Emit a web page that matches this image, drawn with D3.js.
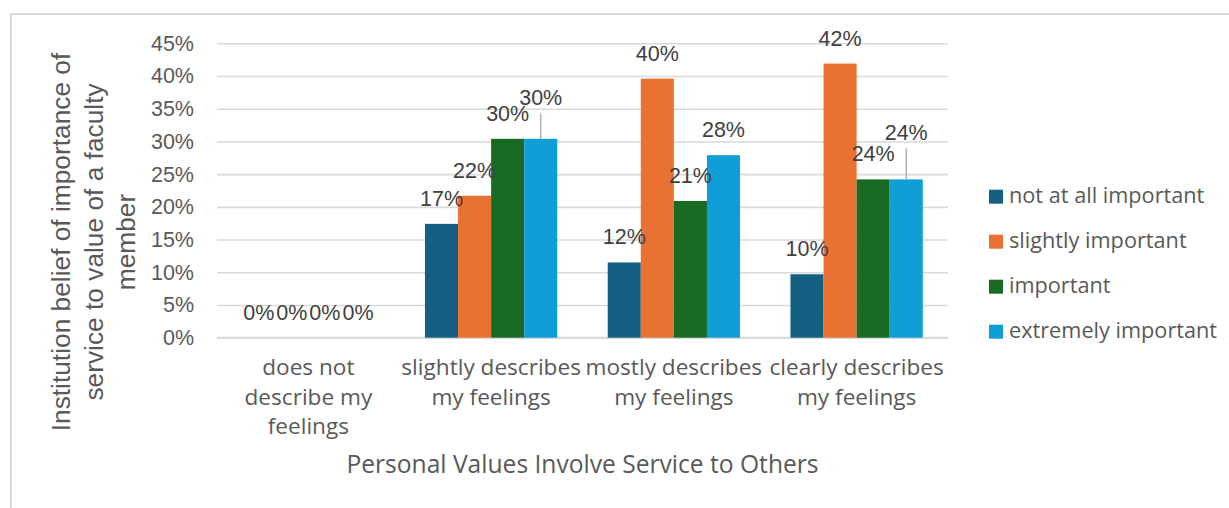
<!DOCTYPE html>
<html>
<head>
<meta charset="utf-8">
<script src="https://cdn.jsdelivr.net/npm/d3@7/dist/d3.min.js"></script>
<style>
  html, body { margin: 0; padding: 0; background: #ffffff; }
  svg { display: block; }
</style>
</head>
<body>
<div id="chart"></div>
<script>
// Categories on the x axis (each split onto display lines)
const categories = [
  "does not describe my feelings",
  "slightly describes my feelings",
  "mostly describes my feelings",
  "clearly describes my feelings"
];
const categoryLines = [
  ["does not", "describe my", "feelings"],
  ["slightly describes", "my feelings"],
  ["mostly describes", "my feelings"],
  ["clearly describes", "my feelings"]
];

// Series (share of respondents per category)
const seriesNames = ["not at all important", "slightly important", "important", "extremely important"];
const notAtAllImportant   = [0, 0.174, 0.115, 0.097];
const slightlyImportant   = [0, 0.217, 0.396, 0.419];
const important           = [0, 0.304, 0.209, 0.242];
const extremelyImportant  = [0, 0.304, 0.279, 0.242];
const seriesValues = [notAtAllImportant, slightlyImportant, important, extremelyImportant];

const yTicks = [0, 0.05, 0.10, 0.15, 0.20, 0.25, 0.30, 0.35, 0.40, 0.45];

const colors = ["#156082", "#E97132", "#196B24", "#0F9ED5"];

const W = 1229, H = 508;
const svg = d3.select("#chart").append("svg")
  .attr("width", W).attr("height", H);

svg.append("rect").attr("width", W).attr("height", H).attr("fill", "#ffffff");

// chart frame (top and left edges visible)
svg.append("rect")
  .attr("x", 11).attr("y", 14)
  .attr("width", W + 10).attr("height", H + 10)
  .attr("fill", "none").attr("stroke", "#d9d9d9").attr("stroke-width", 2);

const plot = { left: 217, right: 948, top: 43.3, bottom: 337.7 };

const x0 = d3.scaleBand()
  .domain(categories)
  .range([plot.left, plot.right])
  .paddingInner(0.276)
  .paddingOuter(0.138);

const x1 = d3.scaleBand()
  .domain(seriesNames)
  .range([0, x0.bandwidth()]);

const y = d3.scaleLinear().domain([0, 0.45]).range([plot.bottom, plot.top]);

const axisFont = "'Liberation Sans', Arial, sans-serif";
const textFont = "'Open Sans', sans-serif";

// gridlines
const yAxis = d3.axisLeft(y).tickValues(yTicks).tickSize(-(plot.right - plot.left))
  .tickFormat(d3.format(".0%")).tickPadding(23);
const gy = svg.append("g").attr("transform", `translate(${plot.left},0)`).call(yAxis);
gy.select(".domain").remove();
gy.selectAll(".tick line").attr("stroke", "#d9d9d9").attr("stroke-width", 1.6);
gy.selectAll(".tick text")
  .attr("fill", "#595959")
  .style("font-family", axisFont).style("font-size", "21.5px")
  .attr("dy", "0.32em");

// baseline axis
svg.append("line")
  .attr("x1", plot.left).attr("x2", plot.right)
  .attr("y1", y(0)).attr("y2", y(0))
  .attr("stroke", "#d9d9d9").attr("stroke-width", 2);

// bars
const cells = [];
categories.forEach((c, ci) => {
  seriesNames.forEach((s, si) => {
    cells.push({ cat: c, ci, series: s, si, value: seriesValues[si][ci] });
  });
});

svg.append("g").selectAll("rect")
  .data(cells.filter(d => d.value > 0))
  .join("rect")
  .attr("x", d => x0(d.cat) + x1(d.series))
  .attr("y", d => y(d.value))
  .attr("width", x1.bandwidth())
  .attr("height", d => y(0) - y(d.value))
  .attr("fill", d => colors[d.si]);

// data labels; a label that would sit on its neighbour is lifted and tied back with a leader line
const labelGap = 18;
const lifted = { "1-3": 15.7, "3-3": 21.7 };
const labels = svg.append("g");
cells.forEach(d => {
  const cx = x0(d.cat) + x1(d.series) + x1.bandwidth() / 2;
  const top = y(d.value);
  const lift = lifted[`${d.ci}-${d.si}`] || 0;
  const baseY = top - labelGap - lift;
  if (lift) {
    labels.append("line")
      .attr("x1", cx).attr("x2", cx)
      .attr("y1", baseY + 8.5).attr("y2", top)
      .attr("stroke", "#a6a6a6").attr("stroke-width", 1.3);
  }
  labels.append("text")
    .attr("x", cx).attr("y", baseY)
    .attr("text-anchor", "middle")
    .attr("fill", "#404040")
    .style("font-family", axisFont).style("font-size", "21.5px")
    .text(d3.format(".0%")(d.value));
});

// category labels
const catG = svg.append("g");
categories.forEach((c, ci) => {
  const cx = x0(c) + x0.bandwidth() / 2;
  const t = catG.append("text")
    .attr("text-anchor", "middle")
    .attr("fill", "#595959")
    .style("font-family", textFont).style("font-size", "22.6px");
  categoryLines[ci].forEach((line, li) => {
    t.append("tspan").attr("x", cx).attr("y", 375 + li * 29.7).text(line);
  });
});

// x axis title
svg.append("text")
  .attr("x", (plot.left + plot.right) / 2).attr("y", 473)
  .attr("text-anchor", "middle")
  .attr("fill", "#595959")
  .style("font-family", textFont).style("font-size", "24.6px")
  .text("Personal Values Involve Service to Others");

// y axis title
const yTitleLines = ["Institution belief of importance of", "service to value of a faculty", "member"];
const yt = svg.append("text")
  .attr("transform", "translate(0,242) rotate(-90)")
  .attr("text-anchor", "middle")
  .attr("fill", "#595959")
  .style("font-family", axisFont).style("font-size", "26.3px");
yTitleLines.forEach((line, i) => {
  yt.append("tspan").attr("x", 0).attr("y", 70 + i * 32.5).text(line);
});

// legend
const legend = svg.append("g").attr("transform", "translate(989,0)");
seriesNames.forEach((s, i) => {
  const cy = 196.7 + i * 45;
  legend.append("rect")
    .attr("x", 0).attr("y", cy - 7)
    .attr("width", 14).attr("height", 14)
    .attr("fill", colors[i]);
  legend.append("text")
    .attr("x", 20).attr("y", cy + 6.7)
    .attr("fill", "#595959")
    .style("font-family", textFont).style("font-size", "21.7px")
    .text(s);
});
</script>
</body>
</html>
